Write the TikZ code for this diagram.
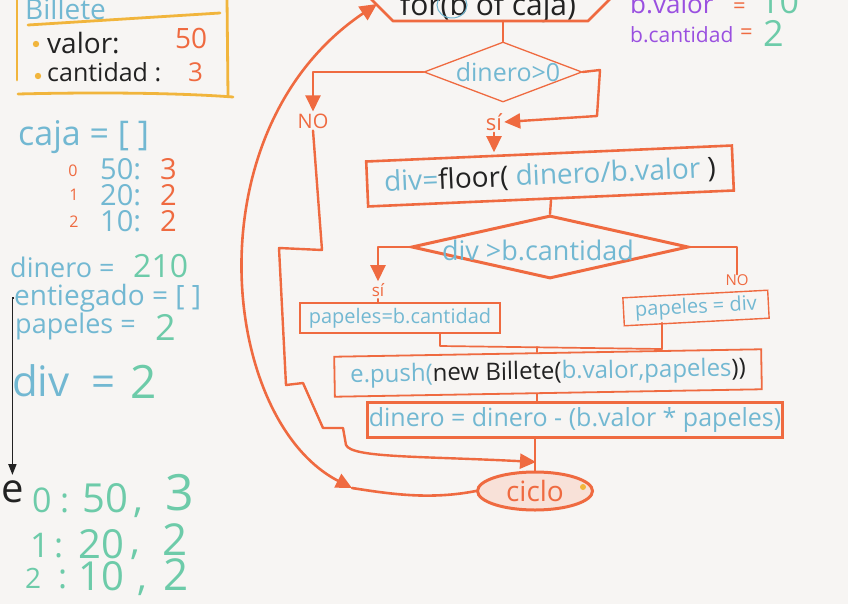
\documentclass[tikz,border=0pt]{standalone}
\usepackage{fontspec}
\setmainfont{Open Sans}
\usetikzlibrary{arrows.meta,shapes.geometric,calc}
\definecolor{org}{HTML}{EF6A40}
\definecolor{blu}{HTML}{72B8D2}
\definecolor{yel}{HTML}{F1B53C}
\definecolor{grn}{HTML}{6DCBA9}
\definecolor{pur}{HTML}{9A50E0}
\definecolor{blk}{HTML}{222222}
\definecolor{bg}{HTML}{F7F5F3}
\definecolor{peach}{HTML}{F8E1D8}
\newcommand{\hfs}[1]{\fontsize{#1}{#1}\selectfont}
\begin{document}
\begin{tikzpicture}[x=1pt,y=-1pt,
 txt/.style={inner sep=0pt,anchor=base west},
 lbl/.style={inner sep=2pt,text=org},
 conn/.style={draw=org,line width=2.4pt,line cap=round,line join=round},
 arr/.style={-{Triangle[length=16pt,width=15pt]}},
 obox/.style={draw=org,rectangle,inner sep=0pt},
]
\useasboundingbox (0,0) rectangle (848,604);
\fill[bg] (0,0) rectangle (848,604);

% ---------- Billete box ----------
\draw[yel,line width=2.8pt,line cap=round] (17,-2) -- (17,80);
\draw[yel,line width=2.8pt,line cap=round] (227,-2) -- (228,96);
\draw[yel,line width=2.8pt,line cap=round] (28,25) -- (220,13);
\draw[yel,line width=2.8pt,line cap=round] (18,94) .. controls (100,92) and (180,93) .. (233,97);
\node[txt,text=blu] (billete) at (25,20) {\hfs{28}Billete};
\fill[yel] (36,44) circle (3.2);
\fill[yel] (38,76) circle (3.2);
\node[txt,text=blk] (valor) at (47,54) {\hfs{28}valor:};
\node[txt,text=org] (v50) at (175,49) {\hfs{28}50};
\node[txt,text=blk] (cant) at (47,82) {\hfs{25}cantidad :};
\node[txt,text=org] (c3) at (188,82) {\hfs{26}3};

% ---------- caja ----------
\node[txt,text=blu] (caja) at (18,146) {\hfs{34}caja = [ ]};
\node[lbl,inner sep=0pt] (i0) at (73,171) {\hfs{16}0};
\node[lbl,inner sep=0pt] (i1) at (74,195) {\hfs{16}1};
\node[lbl,inner sep=0pt] (i2) at (74,222) {\hfs{16}2};
\node[txt,text=blu] (k50) at (100,180) {\hfs{29}50:};
\node[txt,text=org] (q3) at (160,180) {\hfs{29}3};
\node[txt,text=blu] (k20) at (100,205) {\hfs{29}20:};
\node[txt,text=org] (q2a) at (160,205) {\hfs{29}2};
\node[txt,text=blu] (k10) at (100,231) {\hfs{29}10:};
\node[txt,text=org] (q2b) at (160,231) {\hfs{29}2};

% ---------- variables ----------
\node[txt,text=blu] (din) at (10,277) {\hfs{27}dinero =};
\node[txt,text=grn] (d210) at (133,277) {\hfs{32}210};
\node[txt,text=blu] (ent) at (14,305) {\hfs{28}entiegado = [ ]};
\node[txt,text=blu] (pap) at (15,333) {\hfs{27}papeles =};
\node[txt,text=grn] (p2) at (155,340) {\hfs{36}2};
\node[txt,text=blu] (dv) at (12,396) {\hfs{42}div\ \ =};
\node[txt,text=grn] (dv2) at (130,398) {\hfs{46}2};

% ---------- e list ----------
\node[txt,text=blk] (enode) at (1,502) {\hfs{40}e};
\draw[blk,line width=1.8pt,-{Triangle[length=11pt,width=8pt]},shorten >=5pt] (ent.west) -| (enode.north);
\node[txt,text=grn] (r1a) at (32,512) {\hfs{34}0};
\node[txt,text=grn] (r1b) at (60,512) {\hfs{34}:};
\node[txt,text=grn] (r1c) at (82,512) {\hfs{40}50};
\node[txt,text=grn] (r1d) at (133,512) {\hfs{40},};
\node[txt,text=grn] (r1e) at (165,510) {\hfs{50}3};
\node[txt,text=grn] (r2a) at (30,557) {\hfs{34}1};
\node[txt,text=grn] (r2b) at (54,557) {\hfs{34}:};
\node[txt,text=grn] (r2c) at (78,558) {\hfs{40}20};
\node[txt,text=grn] (r2d) at (130,554) {\hfs{40},};
\node[txt,text=grn] (r2e) at (162,555) {\hfs{44}2};
\node[txt,text=grn] (r3a) at (25,588) {\hfs{28}2};
\node[txt,text=grn] (r3b) at (58,588) {\hfs{34}:};
\node[txt,text=grn] (r3c) at (78,590) {\hfs{40}10};
\node[txt,text=grn] (r3d) at (137,590) {\hfs{40},};
\node[txt,text=grn] (r3e) at (163,590) {\hfs{44}2};

% ---------- top right ----------
\node[txt,text=pur] (bval) at (630,14) {\hfs{26}b.valor};
\node[txt,text=org] (eq1) at (733,14) {\hfs{22}=};
\node[txt,text=grn] (n10) at (760,14) {\hfs{34}10};
\node[txt,text=pur] (bcant) at (630,43) {\hfs{21}b.cantidad};
\node[txt,text=org] (eq2) at (740,40) {\hfs{22}=};
\node[txt,text=grn] (n2) at (763,47) {\hfs{36}2};

% ---------- loop header ----------
\node[txt,text=blk] (loop) at (400,16) {\hfs{30}for(b of caja)};
\draw[blu,line width=1pt] (452,5) ellipse (15 and 13);
\draw[org,line width=2.8pt,line join=round] (350,-22) -- (393,21) -- (588,21) -- (631,-22);
\coordinate (hexl) at (377,4);

% ---------- flow nodes ----------
\node[diamond,draw=org,line width=1.3pt,minimum width=158,minimum height=60,inner sep=0pt] (d1) at (503,72) {};
\node[text=blu,inner sep=0pt] (d1t) at (508,72) {\hfs{25}dinero>0};
\node[obox,line width=2.6pt,minimum width=366,minimum height=45,rotate=2.5] (b2) at (550,176)
  {\hfs{28}\textcolor{blu}{div=}\textcolor{blk}{floor(} \textcolor{blu}{dinero/b.valor} \textcolor{blk}{)}};
\node[diamond,draw=org,line width=3pt,minimum width=277,minimum height=63,inner sep=0pt] (d2) at (550,247) {};
\node[text=blu,inner sep=0pt] (d2t) at (538,250) {\hfs{27}div >b.cantidad};
\node[obox,line width=1.4pt,minimum width=200,minimum height=30] (b3a) at (400,318)
  {\hfs{20}\textcolor{blu}{papeles=b.cantidad}};
\node[obox,line width=1.4pt,minimum width=145,minimum height=28,rotate=3] (b3b) at (696,308)
  {\hfs{20}\textcolor{blu}{papeles = div}};
\node[obox,line width=1.8pt,minimum width=427,minimum height=40,rotate=1] (b4) at (548,373)
  {\hfs{24}\textcolor{blu}{e.push(}\textcolor{blk}{new Billete(}\textcolor{blu}{b.valor,papeles}\textcolor{blk}{))}};
\node[obox,line width=2.6pt,minimum width=415,minimum height=35] (b5) at (575,420)
  {\hfs{25}\textcolor{blu}{dinero = dinero - (b.valor * papeles)}};
\node[ellipse,draw=org,fill=peach,line width=3pt,minimum width=115,minimum height=38,inner sep=0pt] (ciclo) at (535,491)
  {\hfs{28}\textcolor{org}{ciclo}};
\fill[yel] (583,487) circle (3);

% ---------- labels ----------
\node[lbl] (no1) at (313,121) {\hfs{20}NO};
\node[lbl] (si1) at (494,122) {\hfs{22}sí};
\node[lbl] (si2) at (378,290) {\hfs{17}sí};
\node[lbl,inner sep=0pt] (no2) at (737,280) {\hfs{15}NO};

% ---------- connectors ----------
\draw[conn] (d1.north |- 0,21) -- (d1.north);
\draw[conn,arr] (d1.west) -| (no1.north);
\draw[conn,arr] (d1.east) -- (600,70) -- (597,116) -- (si1.east);
\draw[conn,arr] (si1.south) -- (si1.south |- b2.north);
\draw[conn] (b2.south) -- (d2.north);
\draw[conn,arr] (d2.west) -| (si2.north);
\draw[conn,line width=1.4pt] (si2.south) -- (si2.south |- b3a.north);
\draw[conn] (d2.east) -| (no2.north);
\coordinate (m1) at (440,346);
\coordinate (m2) at (662,349);
\coordinate (m3) at (537,347);
\draw[conn,line width=1.7pt] (b3a.south -| m1) -- (m1) -- (m2) -- (m2 |- b3b.south);
\draw[conn,line width=1.7pt] (m3) -- (m3 |- b4.north);
\draw[conn,line width=1.7pt] (b4.south -| m3) -- (b5.north -| m3);
\draw[conn] (b5.south -| ciclo.north) -- (ciclo.north);
\coordinate (junc) at (536,462);
\draw[conn,arr] (no1.south) -- (322,250) -- (279,248) -- (286,385) -- (303,383) -- (323,428) -- (343,428) -- (346,445)
  .. controls (352,458) and (420,456) .. (junc);
\coordinate (arcbot) at (352,488);
\draw[conn,line width=2.6pt] (ciclo.west) .. controls (430,500) and (390,494) .. (arcbot);
\draw[conn,line width=2.6pt,{Triangle[length=16pt,width=15pt]}-{Triangle[length=17pt,width=16pt]}]
  (arcbot) .. controls (220,420) and (190,130) .. (hexl);
\end{tikzpicture}
\end{document}
